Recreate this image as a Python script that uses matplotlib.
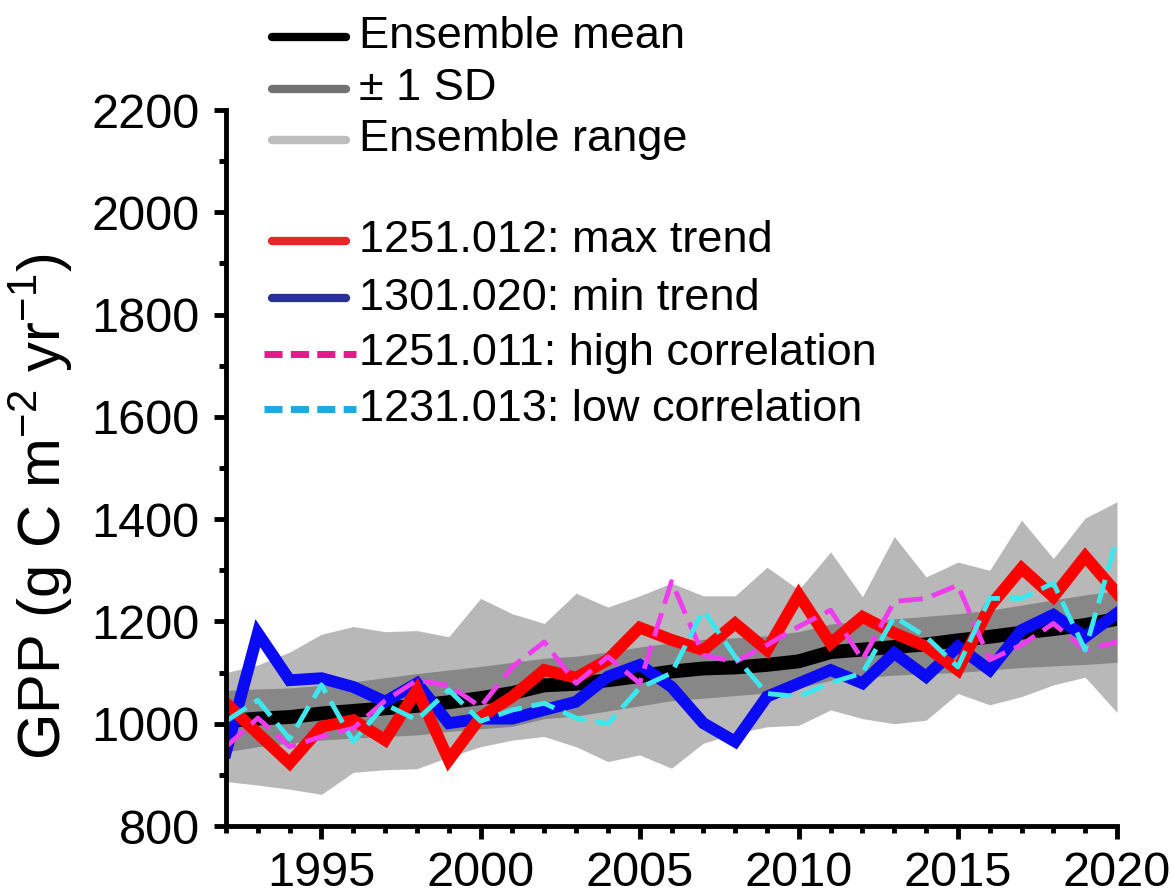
import matplotlib
matplotlib.use("Agg")
import matplotlib.pyplot as plt
from matplotlib.lines import Line2D
from matplotlib.ticker import MultipleLocator
import numpy as np

# annual GPP, g C m-2 yr-1
years = np.arange(1992, 2021)
ens_mean = [1005, 1010, 1013, 1020, 1025, 1030, 1035, 1042, 1050, 1060,
            1075, 1078, 1085, 1093, 1102, 1108, 1110, 1115, 1122, 1140,
            1145, 1150, 1155, 1163, 1170, 1178, 1185, 1193, 1205]
sd_low = [945, 955, 962, 968, 972, 975, 978, 985, 990, 995,
          1010, 1015, 1025, 1035, 1045, 1050, 1055, 1060, 1070, 1085,
          1090, 1095, 1098, 1100, 1105, 1110, 1113, 1116, 1120]
sd_high = [1065, 1068, 1070, 1075, 1082, 1090, 1098, 1105, 1112, 1120,
           1128, 1132, 1140, 1150, 1158, 1165, 1168, 1172, 1180, 1195,
           1200, 1205, 1210, 1215, 1222, 1232, 1242, 1252, 1260]
range_low = [887, 880, 872, 862, 905, 910, 912, 935, 955, 968,
             975, 955, 926, 939, 913, 962, 981, 994, 997, 1027,
             1010, 1000, 1007, 1059, 1037, 1053, 1076, 1091, 1022]
range_high = [1100, 1115, 1140, 1175, 1190, 1180, 1182, 1170, 1245, 1215,
              1196, 1255, 1228, 1250, 1275, 1250, 1250, 1306, 1262, 1336,
              1248, 1366, 1287, 1316, 1300, 1398, 1323, 1402, 1434]
max_trend = [1040, 981, 923, 994, 1007, 968, 1066, 929, 1013, 1053,
             1105, 1090, 1125, 1188, 1164, 1144, 1196, 1144, 1252, 1157,
             1209, 1177, 1151, 1105, 1229, 1304, 1248, 1327, 1255]
min_trend = [945, 1177, 1085, 1089, 1072, 1043, 1079, 1001, 1010, 1010,
             1027, 1043, 1092, 1115, 1072, 1001, 965, 1053, 1079, 1105,
             1079, 1138, 1092, 1151, 1105, 1183, 1213, 1170, 1216]
high_corr = [955, 1011, 955, 975, 991, 1045, 1085, 1075, 1033, 1111,
             1160, 1079, 1131, 1079, 1278, 1134, 1121, 1154, 1190, 1222,
             1125, 1239, 1245, 1271, 1125, 1154, 1196, 1144, 1160]
low_corr = [1005, 1046, 970, 1076, 965, 1038, 1007, 1066, 1005, 1027,
            1040, 1011, 1000, 1070, 1099, 1222, 1131, 1059, 1053, 1080,
            1099, 1209, 1170, 1111, 1245, 1245, 1275, 1144, 1363]

plt.rcParams["font.family"] = "Liberation Sans"
plt.rcParams["mathtext.fontset"] = "custom"
plt.rcParams["mathtext.rm"] = "Liberation Sans"

W, H = 1170, 896
fig = plt.figure(figsize=(W / 100, H / 100), dpi=100)
ax = fig.add_axes([226 / W, 1 - 826 / H, 891 / W, 716 / H])

ax.fill_between(years, range_low, range_high, color="#b8b8b8", lw=0)
ax.fill_between(years, sd_low, sd_high, color="#878787", lw=0)
ax.plot(years, ens_mean, color="black", lw=10, solid_joinstyle="miter")
ax.plot(years, min_trend, color="#0a0af5", lw=8.5, solid_joinstyle="miter")
ax.plot(years, max_trend, color="#ff0000", lw=8.5, solid_joinstyle="miter")
ax.plot(years, high_corr, color="#ee3cee", lw=3.5, dashes=(5, 2))
ax.plot(years, low_corr, color="#3ce8ee", lw=3.5, dashes=(5, 2))

ax.set_xlim(1992, 2020)
ax.set_ylim(800, 2200)
ax.xaxis.set_major_locator(MultipleLocator(5))
ax.xaxis.set_minor_locator(MultipleLocator(1))
ax.yaxis.set_major_locator(MultipleLocator(200))
ax.yaxis.set_minor_locator(MultipleLocator(100))
for s in ("top", "right"):
    ax.spines[s].set_visible(False)
for s in ("left", "bottom"):
    ax.spines[s].set_linewidth(3.5)
ax.tick_params(which="major", direction="out", length=9, width=3.5, labelsize=35)
ax.tick_params(axis="y", which="major", pad=10)
ax.tick_params(axis="x", which="major", pad=9)
ax.tick_params(which="minor", direction="out", length=5, width=3.5)
ax.set_ylabel("GPP (g C m$^{-2}$ yr$^{-1}$)", fontsize=43)
ax.yaxis.set_label_coords(-0.17, 0.446)

# hand-placed key: three ensemble entries, gap, four highlighted runs
key = [
    ("Ensemble mean", "black", 6, "-", 37),
    ("± 1 SD", "#727272", 6, "-", 89),
    ("Ensemble range", "#bdbdbd", 6, "-", 140),
    ("1251.012: max trend", "#e8262a", 6, "-", 241),
    ("1301.020: min trend", "#2b3192", 6, "-", 298),
    ("1251.011: high correlation", "#e6198c", 5, ":", 354),
    ("1231.013: low correlation", "#1eaae1", 5, ":", 409),
]
for label, color, lw, ls, ypx in key:
    y = 1 - ypx / H
    if ls == "-":
        fig.add_artist(Line2D([272 / W, 346 / W], [y, y], color=color, lw=lw,
                              solid_capstyle="round", transform=fig.transFigure))
    else:
        fig.add_artist(Line2D([264 / W, 356 / W], [y, y], color=color, lw=lw,
                              dashes=(2.6, 1.2), dash_capstyle="butt",
                              transform=fig.transFigure))
    fig.text(359 / W, y, label, fontsize=32.5, va="center", ha="left")

fig.savefig("out.png", dpi=100)
